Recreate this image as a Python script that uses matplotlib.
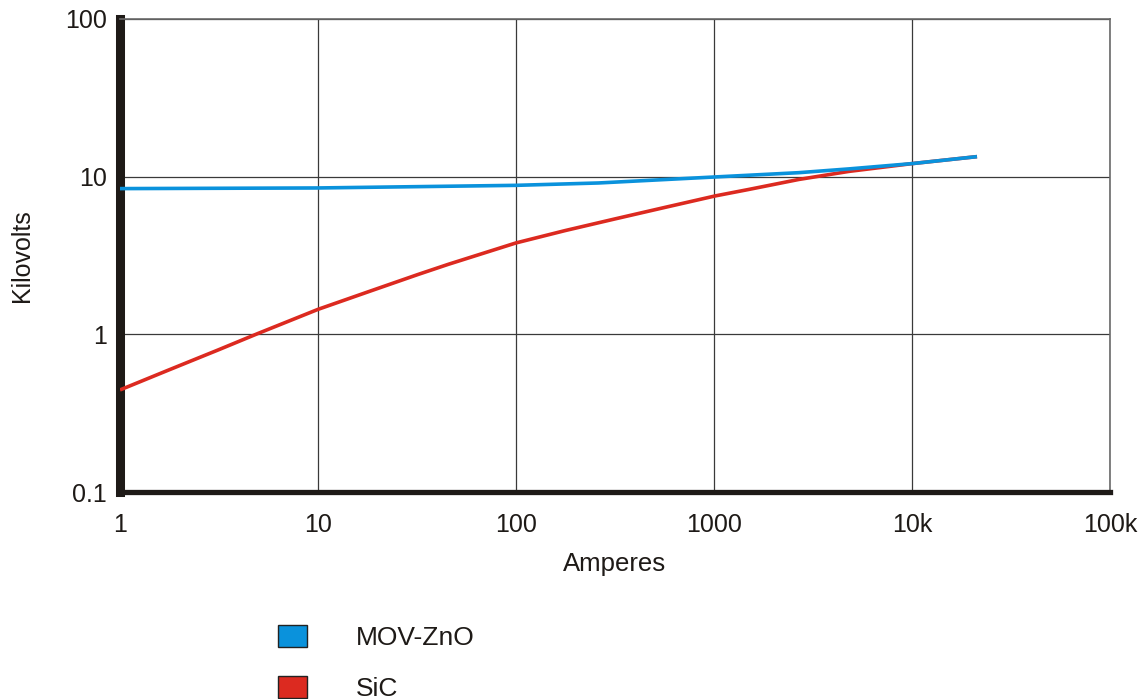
import matplotlib
matplotlib.use('Agg')
from matplotlib import pyplot as plt
from matplotlib.patches import Patch

plt.rcParams['font.family'] = ['Liberation Sans', 'DejaVu Sans']

# values (amperes, kilovolts)
mov_amps = [1, 10, 100, 261, 1000, 2680, 4800, 10000, 21300]
mov_kv = [8.4, 8.48, 8.81, 9.12, 9.95, 10.6, 11.2, 12.1, 13.4]

sic_amps = [1, 1.75, 3.13, 5, 10, 17.9, 32.1, 45.5, 100, 177, 317, 567,
            1015, 1500, 2680, 4800, 10000, 21300]
sic_kv = [0.444, 0.592, 0.796, 1.015, 1.44, 1.86, 2.40, 2.78, 3.80, 4.55, 5.40, 6.39,
          7.55, 8.3, 9.6, 10.8, 12.1, 13.4]

x_ticks = [1, 10, 100, 1000, 10000, 100000]
x_labels = ['1', '10', '100', '1000', '10k', '100k']
y_ticks = [0.1, 1, 10, 100]
y_labels = ['0.1', '1', '10', '100']

blue = '#0a92dc'
red = '#dc2a20'

fig = plt.figure(figsize=(11.46, 6.99), dpi=100)
ax = fig.add_axes([120 / 1146, 1 - 492 / 699, 990 / 1146, 473 / 699])

ax.plot(sic_amps, sic_kv, color=red, lw=2.6, solid_capstyle='butt', zorder=3)
ax.plot(mov_amps, mov_kv, color=blue, lw=2.6, solid_capstyle='butt', zorder=4)

ax.set_xscale('log')
ax.set_yscale('log')
ax.set_xlim(1, 100000)
ax.set_ylim(0.1, 100)
ax.set_xticks(x_ticks)
ax.set_xticklabels(x_labels)
ax.set_yticks(y_ticks)
ax.set_yticklabels(y_labels)
ax.minorticks_off()
ax.tick_params(length=0, labelsize=18, colors='#1e1a17')
ax.tick_params(axis='x', pad=15)
ax.tick_params(axis='y', pad=9.5)
ax.grid(True, color='#3a3a3a', lw=0.9)

ax.spines['left'].set_linewidth(6.5)
ax.spines['left'].set_color('#1e1a17')
ax.spines['bottom'].set_linewidth(3.8)
ax.spines['bottom'].set_color('#1e1a17')
for s in ['top', 'right']:
    ax.spines[s].set_linewidth(1.2)
    ax.spines[s].set_color('#6a6a6a')

ax.set_xlabel('Amperes', fontsize=18.5, labelpad=11, color='#1e1a17')
ax.set_ylabel('Kilovolts', fontsize=18, labelpad=22, color='#1e1a17')

handles = [Patch(facecolor=blue, edgecolor='#222222', lw=1.0),
           Patch(facecolor=red, edgecolor='#222222', lw=1.0)]
fig.legend(handles, ['MOV-ZnO', 'SiC'], loc='upper left',
           bbox_to_anchor=(278 / 1146, 1 - 625 / 699), frameon=False,
           fontsize=19, handlelength=1.1, handleheight=0.9,
           handletextpad=1.86, labelspacing=0.97, borderpad=0, borderaxespad=0,
           labelcolor='#1e1a17')

plt.savefig('out.png', dpi=100)
